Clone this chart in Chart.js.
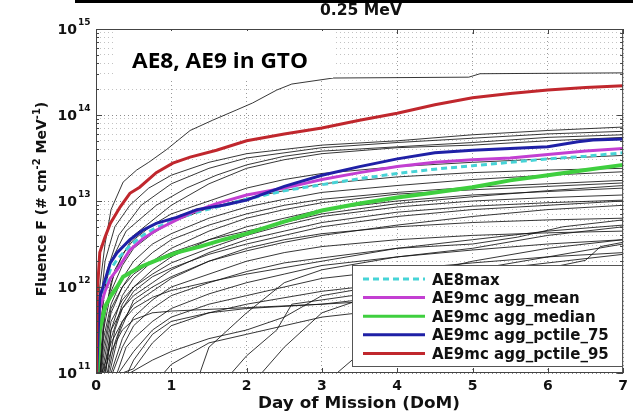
<!DOCTYPE html>
<html>
<head>
<meta charset="utf-8">
<script src="https://cdn.jsdelivr.net/npm/chart.js@4.4.1/dist/chart.umd.min.js"></script>
<style>
  html, body { margin: 0; padding: 0; background: #fff; }
  #wrap { position: relative; width: 633px; height: 415px; }
  #strip { position: absolute; left: 75px; top: 0; width: 558px; height: 3px; background: #000; }
</style>
</head>
<body>
<div id="wrap">
  <canvas id="chart" width="633" height="415"></canvas>
  <div id="strip"></div>
</div>
<script>
// values are [day of mission, log10(fluence)]
const pctile95 = [[0.005,11.0],[0.015,11.9],[0.05,12.40],[0.12,12.58],[0.19,12.74],[0.32,12.93],[0.45,13.09],[0.58,13.16],[0.8,13.33],[1.02,13.44],[1.25,13.51],[1.6,13.59],[2.0,13.70],[2.5,13.78],[3.0,13.85],[3.5,13.94],[4.0,14.02],[4.5,14.12],[5.0,14.20],[5.5,14.25],[6.0,14.29],[6.5,14.32],[7.0,14.34]];
const pctile75 = [[0.01,11.0],[0.03,11.5],[0.05,11.88],[0.12,12.08],[0.19,12.28],[0.28,12.40],[0.45,12.55],[0.62,12.66],[0.8,12.74],[1.07,12.81],[1.34,12.90],[1.69,12.95],[2.0,13.01],[2.5,13.17],[3.0,13.30],[3.5,13.40],[4.0,13.49],[4.5,13.56],[5.0,13.59],[5.5,13.61],[6.0,13.63],[6.4,13.69],[6.6,13.71],[7.0,13.72]];
const aggMean = [[0.012,11.0],[0.03,11.45],[0.05,11.75],[0.12,11.95],[0.19,12.10],[0.28,12.20],[0.45,12.43],[0.62,12.56],[0.8,12.66],[1.07,12.78],[1.25,12.86],[1.6,12.97],[2.0,13.07],[2.5,13.15],[3.0,13.25],[3.5,13.33],[4.0,13.40],[4.5,13.45],[5.0,13.48],[5.5,13.50],[6.0,13.54],[6.5,13.58],[7.0,13.61]];
const ae8max = [[0.012,11.0],[0.03,11.5],[0.05,11.8],[0.12,12.02],[0.19,12.2],[0.28,12.32],[0.45,12.48],[0.62,12.6],[0.8,12.69],[1.07,12.79],[1.34,12.87],[1.69,12.95],[2.0,13.02],[2.5,13.12],[3.0,13.19],[3.5,13.26],[4.0,13.32],[4.5,13.37],[5.0,13.41],[5.5,13.45],[6.0,13.49],[6.5,13.52],[7.0,13.56]];
const aggMedian = [[0.02,11.0],[0.05,11.5],[0.12,11.77],[0.2,11.9],[0.28,12.0],[0.36,12.12],[0.58,12.23],[0.8,12.31],[1.07,12.40],[1.38,12.47],[1.69,12.55],[2.0,12.62],[2.5,12.76],[3.0,12.89],[3.5,12.97],[4.0,13.04],[4.5,13.10],[5.0,13.16],[5.5,13.24],[6.0,13.30],[6.5,13.36],[7.0,13.42]];

// individual Monte Carlo runs (thin black lines)
const run01 = [[0.02,11],[0.05,12.0],[0.12,12.5],[0.2,12.9],[0.36,13.22],[0.54,13.36],[0.7,13.45],[0.94,13.6],[1.25,13.82],[1.55,13.94],[1.87,14.06],[2.08,14.14],[2.4,14.29],[2.6,14.36],[3.15,14.43],[4.95,14.44],[5.1,14.48],[7,14.49]];
const run02 = [[0.02,11],[0.06,11.8],[0.12,12.3],[0.25,12.7],[0.45,12.95],[0.7,13.15],[1.0,13.3],[1.5,13.45],[2.0,13.55],[3.0,13.65],[4.0,13.7],[5.0,13.77],[6.0,13.82],[7.0,13.86]];
const run03 = [[0.03,11],[0.08,11.7],[0.15,12.2],[0.3,12.6],[0.6,12.95],[1.0,13.2],[1.5,13.38],[2.0,13.5],[3.0,13.62],[4.0,13.68],[5.0,13.73],[6.0,13.78],[7.0,13.81]];
const run04 = [[0.02,11],[0.1,11.9],[0.2,12.3],[0.4,12.65],[0.8,12.95],[1.2,13.15],[1.6,13.3],[2.0,13.42],[2.5,13.52],[3.0,13.58],[4.0,13.63],[5.0,13.68],[6.0,13.74],[7.0,13.77]];
const run05 = [[0.05,11],[0.12,11.7],[0.25,12.2],[0.5,12.6],[1.0,12.95],[1.5,13.2],[2.0,13.38],[2.5,13.48],[3.0,13.55],[4.0,13.62],[5.0,13.65],[6.0,13.7],[7.0,13.74]];
const run06 = [[0.04,11],[0.1,11.6],[0.2,12.05],[0.35,12.38],[0.5,12.55],[0.75,12.72],[1.0,12.85],[1.5,13.0],[2.0,13.15],[2.5,13.25],[3.0,13.32],[4.0,13.4],[5.0,13.45],[6.0,13.49],[7.0,13.53]];
const run07 = [[0.06,11],[0.1,11.5],[0.2,11.95],[0.35,12.25],[0.5,12.45],[0.75,12.62],[1.0,12.75],[1.5,12.92],[2.0,13.03],[2.5,13.12],[3.0,13.2],[4.0,13.28],[5.0,13.33],[6.0,13.36],[7.0,13.38]];
const run08 = [[0.05,11],[0.1,11.4],[0.2,11.8],[0.35,12.1],[0.5,12.3],[0.75,12.5],[1.0,12.62],[1.5,12.8],[2.0,12.93],[2.5,13.02],[3.0,13.1],[4.0,13.18],[5.0,13.25],[6.0,13.3],[7.0,13.34]];
const run09 = [[0.07,11],[0.1,11.2],[0.2,11.7],[0.35,12.0],[0.5,12.2],[0.75,12.4],[1.0,12.55],[1.5,12.72],[2.0,12.85],[2.5,12.95],[3.0,13.02],[4.0,13.1],[5.0,13.16],[6.0,13.2],[7.0,13.24]];
const run10 = [[0.1,11],[0.2,11.5],[0.35,11.9],[0.5,12.1],[0.75,12.3],[1.0,12.45],[1.5,12.65],[2.0,12.8],[2.5,12.9],[3.0,12.98],[4.0,13.08],[5.0,13.13],[6.0,13.17],[7.0,13.21]];
const run11 = [[0.12,11],[0.2,11.4],[0.35,11.8],[0.5,12.0],[0.75,12.2],[1.0,12.35],[1.5,12.55],[2.0,12.7],[2.5,12.8],[3.0,12.9],[4.0,13.0],[5.0,13.07],[6.0,13.11],[7.0,13.15]];
const run12 = [[0.08,11],[0.2,11.6],[0.35,11.85],[0.5,12.0],[0.75,12.15],[1.0,12.28],[1.5,12.45],[2.0,12.6],[2.5,12.72],[3.0,12.82],[4.0,12.93],[5.0,13.0],[6.0,13.04],[7.0,13.07]];
const run13 = [[0.13,11],[0.2,11.5],[0.35,11.75],[0.5,11.9],[0.75,12.05],[1.0,12.2],[1.5,12.4],[2.0,12.55],[2.5,12.65],[3.0,12.75],[4.0,12.87],[5.0,12.94],[6.0,12.98],[7.0,13.01]];
const run14 = [[0.16,11],[0.25,11.35],[0.35,11.6],[0.5,11.8],[0.75,11.95],[1.0,12.1],[1.5,12.3],[2.0,12.45],[2.5,12.55],[3.0,12.62],[4.0,12.7],[5.0,12.75],[6.0,12.78],[7.0,12.8]];
const run15 = [[0.2,11],[0.35,11.4],[0.5,11.65],[0.75,11.85],[1.0,12.0],[1.5,12.15],[2.0,12.3],[2.5,12.4],[3.0,12.47],[4.0,12.55],[5.0,12.6],[6.0,12.63],[7.0,12.65]];
const run16 = [[0.22,11],[0.35,11.3],[0.5,11.55],[0.75,11.75],[1.0,11.9],[1.5,12.05],[2.0,12.18],[2.5,12.28],[3.1,12.35],[4.0,12.45],[5.0,12.5],[5.6,12.58],[6.2,12.7],[7.0,12.78]];
const run17 = [[0.28,11],[0.4,11.3],[0.5,11.4],[0.75,11.6],[1.0,11.75],[1.5,11.92],[2.0,12.05],[2.5,12.15],[3.0,12.25],[4.0,12.35],[5.0,12.43],[6.0,12.5],[7.0,12.55]];
const run18 = [[0.3,11],[0.5,11.25],[0.75,11.5],[1.0,11.65],[1.5,11.8],[2.0,11.9],[2.5,12.0],[3.0,12.1],[4.0,12.2],[5.0,12.28],[6.0,12.35],[7.0,12.4]];
const run19 = [[0.35,11],[0.5,11.05],[0.75,11.35],[1.0,11.55],[1.5,11.7],[2.0,11.8],[3.0,11.95],[4.0,12.05],[5.0,12.15],[6.0,12.22],[6.5,12.31],[6.7,12.47],[7.0,12.52]];
const run20 = [[1.38,11],[1.5,11.3],[2.0,11.7],[2.5,12.05],[3.0,12.2],[4.0,12.35],[5.0,12.45],[6.0,12.6],[7.0,12.7]];
const run21 = [[0.42,11],[0.5,11.15],[0.75,11.45],[1.0,11.6],[1.5,11.7],[2.0,11.75],[3.0,11.8],[4.0,11.85],[5.0,11.92],[6.0,12.0],[7.0,12.1]];
const run22 = [[0.9,11],[1.0,11.1],[1.5,11.35],[2.0,11.45],[2.5,11.55],[3.0,11.65],[4.0,11.75],[5.0,11.82],[6.0,11.9],[7.0,12.0]];
const run23 = [[2.2,11],[2.5,11.3],[3.0,11.7],[4.0,12.0],[5.0,12.2],[6.0,12.35],[7.0,12.5]];
const run24 = [[0.1,11],[0.2,11.25],[0.35,11.5],[0.5,11.62],[0.75,11.7],[1.0,11.72],[1.5,11.74],[2.0,11.76],[3.0,11.8],[4.0,11.9],[5.0,12.0],[6.0,12.1],[7.0,12.2]];
const run25 = [[0.08,11],[0.2,11.35],[0.35,11.6],[0.5,11.75],[0.75,11.88],[1.0,11.96],[1.5,12.06],[2.0,12.15],[3.0,12.3],[4.0,12.45],[5.0,12.55],[6.0,12.65],[7.0,12.72]];
const run26 = [[0.45,11],[0.75,11.15],[1.0,11.25],[1.5,11.4],[2.0,11.5],[2.5,11.65],[3.0,11.9],[4.0,12.05],[5.0,12.18],[6.0,12.28],[7.0,12.38]];
const run27 = [[0.15,11],[0.25,11.5],[0.35,11.75],[0.5,11.95],[0.75,12.12],[1.0,12.22],[1.5,12.38],[2.0,12.5],[2.5,12.6],[3.0,12.7],[4.0,12.82],[5.0,12.9],[6.0,12.95],[7.0,13.0]];
const run28 = [[0.06,11],[0.1,11.3],[0.2,11.75],[0.35,12.0],[0.5,12.15],[0.75,12.3],[1.0,12.4],[1.5,12.55],[2.0,12.65],[2.5,12.75],[3.0,12.85],[4.0,12.97],[5.0,13.05],[6.0,13.12],[7.0,13.18]];
const run29 = [[0.18,11],[0.3,11.45],[0.5,11.85],[0.75,12.0],[1.0,12.12],[1.5,12.3],[2.0,12.42],[2.5,12.52],[3.0,12.6],[4.0,12.72],[5.0,12.82],[6.0,12.9],[7.0,12.95]];
const run30 = [[1.8,11],[2.0,11.2],[2.4,11.5],[2.6,11.8],[3.0,11.85],[3.4,11.9],[4.0,12.1],[5.0,12.3],[6.0,12.45],[7.0,12.55]];
const run31 = [[3.2,11],[3.6,11.3],[4.2,11.5],[5.0,11.7],[6.0,11.9],[7.0,12.1]];

const runs = [run01, run02, run03, run04, run05, run06, run07, run08, run09, run10, run11, run12, run13, run14, run15, run16,
              run17, run18, run19, run20, run21, run22, run23, run24, run25, run26, run27, run28, run29, run30, run31];

const xTicks = [0, 1, 2, 3, 4, 5, 6, 7];
const yDecades = [11, 12, 13, 14, 15];
const legendLabels = ['AE8max', 'AE9mc agg_mean', 'AE9mc agg_median', 'AE9mc agg_pctile_75', 'AE9mc agg_pctile_95'];
const legendColors = ['#47d3d6', '#c33fd2', '#3fcf3f', '#1f20a6', '#c0272d'];

const toPts = arr => arr.map(p => ({ x: p[0], y: Math.pow(10, p[1]) }));
const isDecade = v => Math.abs(Math.log10(v) - Math.round(Math.log10(v))) < 1e-6;

const datasets = [
  { data: toPts(pctile95), borderColor: legendColors[4], borderWidth: 3 },
  { data: toPts(pctile75), borderColor: legendColors[3], borderWidth: 3 },
  { data: toPts(aggMedian), borderColor: legendColors[2], borderWidth: 4 },
  { data: toPts(aggMean), borderColor: legendColors[1], borderWidth: 3 },
  { data: toPts(ae8max), borderColor: legendColors[0], borderWidth: 3, borderDash: [6, 4] }
];
runs.forEach(r => datasets.push({ data: toPts(r), borderColor: 'rgba(20,20,20,0.85)', borderWidth: 1 }));

const BOLD = 'bold ';
const FAM = '"DejaVu Sans", sans-serif';

function fitText(ctx, str, cx, base, font, width) {
  ctx.save();
  ctx.font = font;
  const w = ctx.measureText(str).width;
  ctx.translate(cx, base);
  ctx.scale(width / w, 1);
  ctx.textAlign = 'center';
  ctx.textBaseline = 'alphabetic';
  ctx.fillText(str, 0, 0);
  ctx.restore();
}

const decor = {
  id: 'decor',
  afterDatasetsDraw(chart) {
    const { ctx, chartArea: a, scales } = chart;
    const ys = scales.y, xs = scales.x;
    ctx.save();

    // plot box and inward ticks
    ctx.strokeStyle = '#444';
    ctx.lineWidth = 1;
    ctx.strokeRect(a.left + 0.5, a.top + 0.5, a.right - a.left - 1, a.bottom - a.top - 1);
    ctx.beginPath();
    xTicks.forEach(t => {
      const px = Math.round(xs.getPixelForValue(t)) + 0.5;
      ctx.moveTo(px, a.bottom); ctx.lineTo(px, a.bottom - 5);
      ctx.moveTo(px, a.top); ctx.lineTo(px, a.top + 5);
    });
    ys.ticks.forEach(t => {
      const py = Math.round(ys.getPixelForValue(t.value)) + 0.5;
      const len = isDecade(t.value) ? 6 : 3;
      ctx.moveTo(a.left, py); ctx.lineTo(a.left + len, py);
      ctx.moveTo(a.right, py); ctx.lineTo(a.right - len, py);
    });
    ctx.stroke();

    // annotation box
    ctx.fillStyle = '#fff';
    ctx.fillRect(113, 31, 220, 47);
    ctx.fillStyle = '#000';
    fitText(ctx, 'AE8, AE9 in GTO', 220, 68, 'bold 21px "Open Sans", sans-serif', 176);

    // legend
    ctx.fillStyle = '#fff';
    ctx.fillRect(352, 265, 271, 102);
    ctx.strokeStyle = '#555';
    ctx.strokeRect(352.5, 265.5, 270, 101);
    legendLabels.forEach((lab, i) => {
      const y = 279 + i * 18.6;
      ctx.strokeStyle = legendColors[i];
      ctx.lineWidth = 3;
      ctx.setLineDash(i === 0 ? [6, 4] : []);
      ctx.beginPath(); ctx.moveTo(363, y); ctx.lineTo(425, y); ctx.stroke();
      ctx.setLineDash([]);
      ctx.fillStyle = '#111';
      ctx.font = BOLD + '15px ' + FAM;
      ctx.textAlign = 'left';
      ctx.textBaseline = 'alphabetic';
      ctx.fillText(lab, 432, y + 5.5);
    });

    // y decade labels 10^n
    ctx.fillStyle = '#111';
    yDecades.forEach(e => {
      const py = ys.getPixelForValue(Math.pow(10, e));
      ctx.font = BOLD + '14px ' + FAM;
      ctx.textAlign = 'right';
      ctx.fillText('10', 77, py + 5);
      ctx.font = BOLD + '9px ' + FAM;
      ctx.textAlign = 'left';
      ctx.fillText(String(e), 78, py - 4);
    });

    // y title with superscripts, rotated
    const parts = [['Fluence F (# cm', 14, 0], ['-2', 10, -6], [' MeV', 14, 0], ['-1', 10, -6], [')', 14, 0]];
    ctx.save();
    ctx.translate(46, 199);
    ctx.rotate(-Math.PI / 2);
    let total = 0;
    parts.forEach(p => { ctx.font = BOLD + p[1] + 'px ' + FAM; total += ctx.measureText(p[0]).width; });
    let cx = -total / 2;
    ctx.textAlign = 'left';
    parts.forEach(p => {
      ctx.font = BOLD + p[1] + 'px ' + FAM;
      ctx.fillText(p[0], cx, p[2]);
      cx += ctx.measureText(p[0]).width;
    });
    ctx.restore();

    // titles
    fitText(ctx, '0.25 MeV', 361, 15, BOLD + '15px ' + FAM, 82);
    fitText(ctx, 'Day of Mission (DoM)', 359, 408, BOLD + '15.5px ' + FAM, 202);

    ctx.restore();
  }
};

new Chart(document.getElementById('chart'), {
  type: 'line',
  data: { datasets },
  options: {
    responsive: false,
    animation: false,
    parsing: true,
    layout: { padding: { top: 29, right: 9, left: 0, bottom: 0 } },
    elements: { point: { radius: 0 }, line: { tension: 0 } },
    plugins: { legend: { display: false }, title: { display: false }, tooltip: { enabled: false } },
    scales: {
      x: {
        type: 'linear', min: 0, max: 7,
        afterBuildTicks: s => { s.ticks = xTicks.map(v => ({ value: v })); },
        afterFit: s => { s.height = 42; },
        ticks: { font: { family: 'DejaVu Sans', weight: 'bold', size: 14 }, color: '#111', padding: 5, maxRotation: 0 },
        grid: { color: '#9a9a9a', drawTicks: false },
        border: { display: false, dash: [1, 3] }
      },
      y: {
        type: 'logarithmic', min: 1e11, max: 1e15,
        afterBuildTicks: s => {
          const t = [];
          yDecades.slice(0, -1).forEach(e => { for (let m = 1; m < 10; m++) t.push({ value: m * Math.pow(10, e) }); });
          t.push({ value: 1e15 });
          s.ticks = t;
        },
        afterFit: s => { s.width = 96; },
        ticks: { display: false },
        grid: { color: c => (c.tick && isDecade(c.tick.value)) ? '#8a8a8a' : '#c2c2c2', drawTicks: false },
        border: { display: false, dash: [1, 3] }
      }
    }
  },
  plugins: [decor]
});
</script>
</body>
</html>
